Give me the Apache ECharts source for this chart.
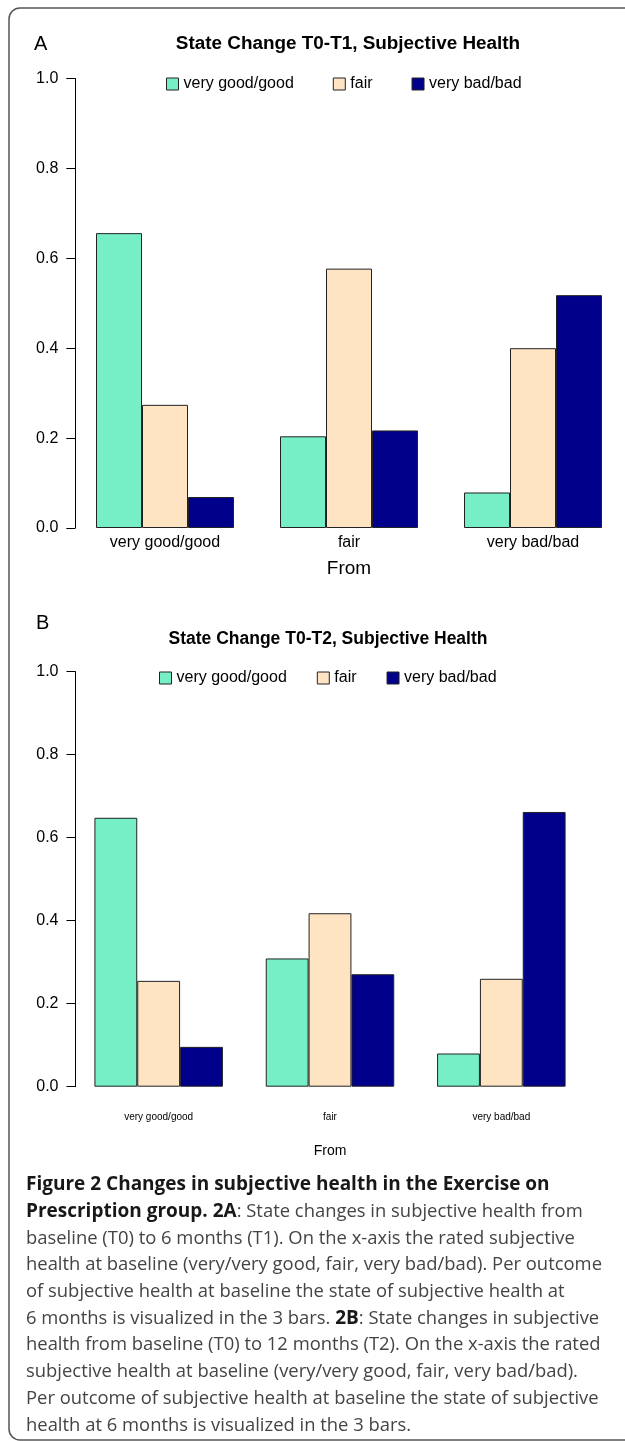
<!DOCTYPE html>
<html>
<head>
<meta charset="utf-8">
<script src="https://cdn.jsdelivr.net/npm/echarts@6/dist/echarts.min.js"></script>
<style>
html,body{margin:0;padding:0;background:#fff;}
#c{width:625px;height:1441px;}
</style>
</head>
<body>
<div id="c"></div>
<script>
// ---- data ----
const categories = ['very good/good', 'fair', 'very bad/bad'];
const seriesNames = ['very good/good', 'fair', 'very bad/bad'];
const colors = ['#76EEC6', '#FFE4C4', '#00008B'];
// Panel A: T0 -> T1
const t1Good = [0.656, 0.204, 0.079];
const t1Fair = [0.274, 0.577, 0.400];
const t1Bad  = [0.069, 0.217, 0.518];
// Panel B: T0 -> T2
const t2Good = [0.648, 0.309, 0.080];
const t2Fair = [0.255, 0.418, 0.260];
const t2Bad  = [0.096, 0.271, 0.662];
const titleA = 'State Change T0-T1, Subjective Health';
const titleB = 'State Change T0-T2, Subjective Health';
const xName = 'From';
const captionLines = [
  '{b|Figure 2 Changes in subjective health in the Exercise on}',
  '{b|Prescription group. 2A}: State changes in subjective health from',
  'baseline (T0) to 6 months (T1). On the x-axis the rated subjective',
  'health at baseline (very/very good, fair, very bad/bad). Per outcome',
  'of subjective health at baseline the state of subjective health at',
  '6 months is visualized in the 3 bars. {b|2B}: State changes in subjective',
  'health from baseline (T0) to 12 months (T2). On the x-axis the rated',
  'subjective health at baseline (very/very good, fair, very bad/bad).',
  'Per outcome of subjective health at baseline the state of subjective',
  'health at 6 months is visualized in the 3 bars.'
];

const AX = 'Liberation Sans, Arial, Helvetica, sans-serif';
const CAP = '"Open Sans", "Noto Sans", sans-serif';

// caption horizontal condensing (to mimic narrow caption font)
const capSize = 18.6;
const capBoldSize = 19.2;
const cv = document.createElement('canvas').getContext('2d');
cv.font = capSize + 'px "Open Sans"';
const w4 = cv.measureText('health at baseline (very/very good, fair, very bad/bad). Per outcome').width;
const capScale = w4 > 0 ? 576 / w4 : 0.85;

const chart = echarts.init(document.getElementById('c'), null, {renderer: 'canvas'});

function yAxisCfg(gi, off) {
  return {
    type: 'value', gridIndex: gi, min: 0, max: 1, interval: 0.2, offset: off,
    axisLine: {show: true, lineStyle: {color: '#000', width: 1}},
    axisTick: {show: true, length: 9, lineStyle: {color: '#000'}},
    splitLine: {show: false},
    axisLabel: {color: '#000', fontSize: 16, fontFamily: AX, margin: 17,
      formatter: v => v.toFixed(1)}
  };
}
function xAxisCfg(gi, fs, margin, nfs, ngap) {
  return {
    type: 'category', gridIndex: gi, data: categories,
    axisLine: {show: false}, axisTick: {show: false},
    axisLabel: {color: '#000', fontSize: fs, fontFamily: AX, margin: margin, lineHeight: fs, interval: 0},
    name: xName, nameLocation: 'middle', nameGap: ngap,
    nameTextStyle: {color: '#000', fontSize: nfs, fontFamily: AX, lineHeight: nfs}
  };
}
function bar(name, data, ci, gi) {
  return {
    type: 'bar', name: name, data: data, xAxisIndex: gi, yAxisIndex: gi,
    barGap: '0%', barCategoryGap: '25%',
    itemStyle: {color: colors[ci], borderColor: '#222', borderWidth: 1},
    emphasis: {disabled: true}, animation: false
  };
}

const graphics = [
  {type: 'rect', shape: {x: 9, y: 8, width: 700, height: 1432, r: 11},
   style: {fill: 'none', stroke: '#555', lineWidth: 1.5}, silent: true},
  {type: 'text', x: 34, y: 44, style: {text: 'A', font: '20px ' + AX, fill: '#000', textVerticalAlign: 'middle', verticalAlign: 'middle'}},
  {type: 'text', x: 36, y: 623, style: {text: 'B', font: '20px ' + AX, fill: '#000', textVerticalAlign: 'middle', verticalAlign: 'middle'}},
  {type: 'text', x: 348, y: 44, style: {text: titleA, font: 'bold 18.9px ' + AX, fill: '#000', textAlign: 'center', align: 'center', textVerticalAlign: 'middle', verticalAlign: 'middle'}},
  {type: 'text', x: 328, y: 639, style: {text: titleB, font: 'bold 17.5px ' + AX, fill: '#000', textAlign: 'center', align: 'center', textVerticalAlign: 'middle', verticalAlign: 'middle'}}
];
captionLines.forEach((ln, i) => {
  graphics.push({
    type: 'text', x: 26, y: 1185 + i * 26.7, scaleX: capScale,
    style: {
      text: ln, font: capSize + 'px ' + CAP, fill: '#444',
      textVerticalAlign: 'middle', verticalAlign: 'middle',
      rich: {b: {fontWeight: 'bold', fontSize: capBoldSize, fontFamily: CAP, fill: '#1a1718', color: '#1a1718'}}
    }
  });
});

chart.setOption({
  animation: false,
  backgroundColor: '#fff',
  grid: [
    {left: 73, top: 78.5, width: 559, height: 449.5, containLabel: false},
    {left: 73, top: 671.7, width: 514, height: 415, containLabel: false}
  ],
  legend: [
    {data: seriesNames, left: 166, top: 76, orient: 'horizontal', itemGap: 39, padding: 0,
     itemWidth: 12, itemHeight: 12, icon: 'rect', selectedMode: false,
     itemStyle: {borderColor: '#222', borderWidth: 1},
     textStyle: {color: '#000', fontSize: 16, fontFamily: AX, lineHeight: 16}},
    {data: seriesNames, left: 159, top: 670, orient: 'horizontal', itemGap: 30, padding: 0,
     itemWidth: 12, itemHeight: 12, icon: 'rect', selectedMode: false,
     itemStyle: {borderColor: '#222', borderWidth: 1},
     textStyle: {color: '#000', fontSize: 16, fontFamily: AX, lineHeight: 16}}
  ],
  xAxis: [xAxisCfg(0, 16, 7, 19, 31), xAxisCfg(1, 10, 26, 14, 57)],
  yAxis: [yAxisCfg(0, -2.3), yAxisCfg(1, -2.5)],
  series: [
    bar(seriesNames[0], t1Good, 0, 0), bar(seriesNames[1], t1Fair, 1, 0), bar(seriesNames[2], t1Bad, 2, 0),
    bar(seriesNames[0], t2Good, 0, 1), bar(seriesNames[1], t2Fair, 1, 1), bar(seriesNames[2], t2Bad, 2, 1)
  ],
  graphic: graphics
});
</script>
</body>
</html>
